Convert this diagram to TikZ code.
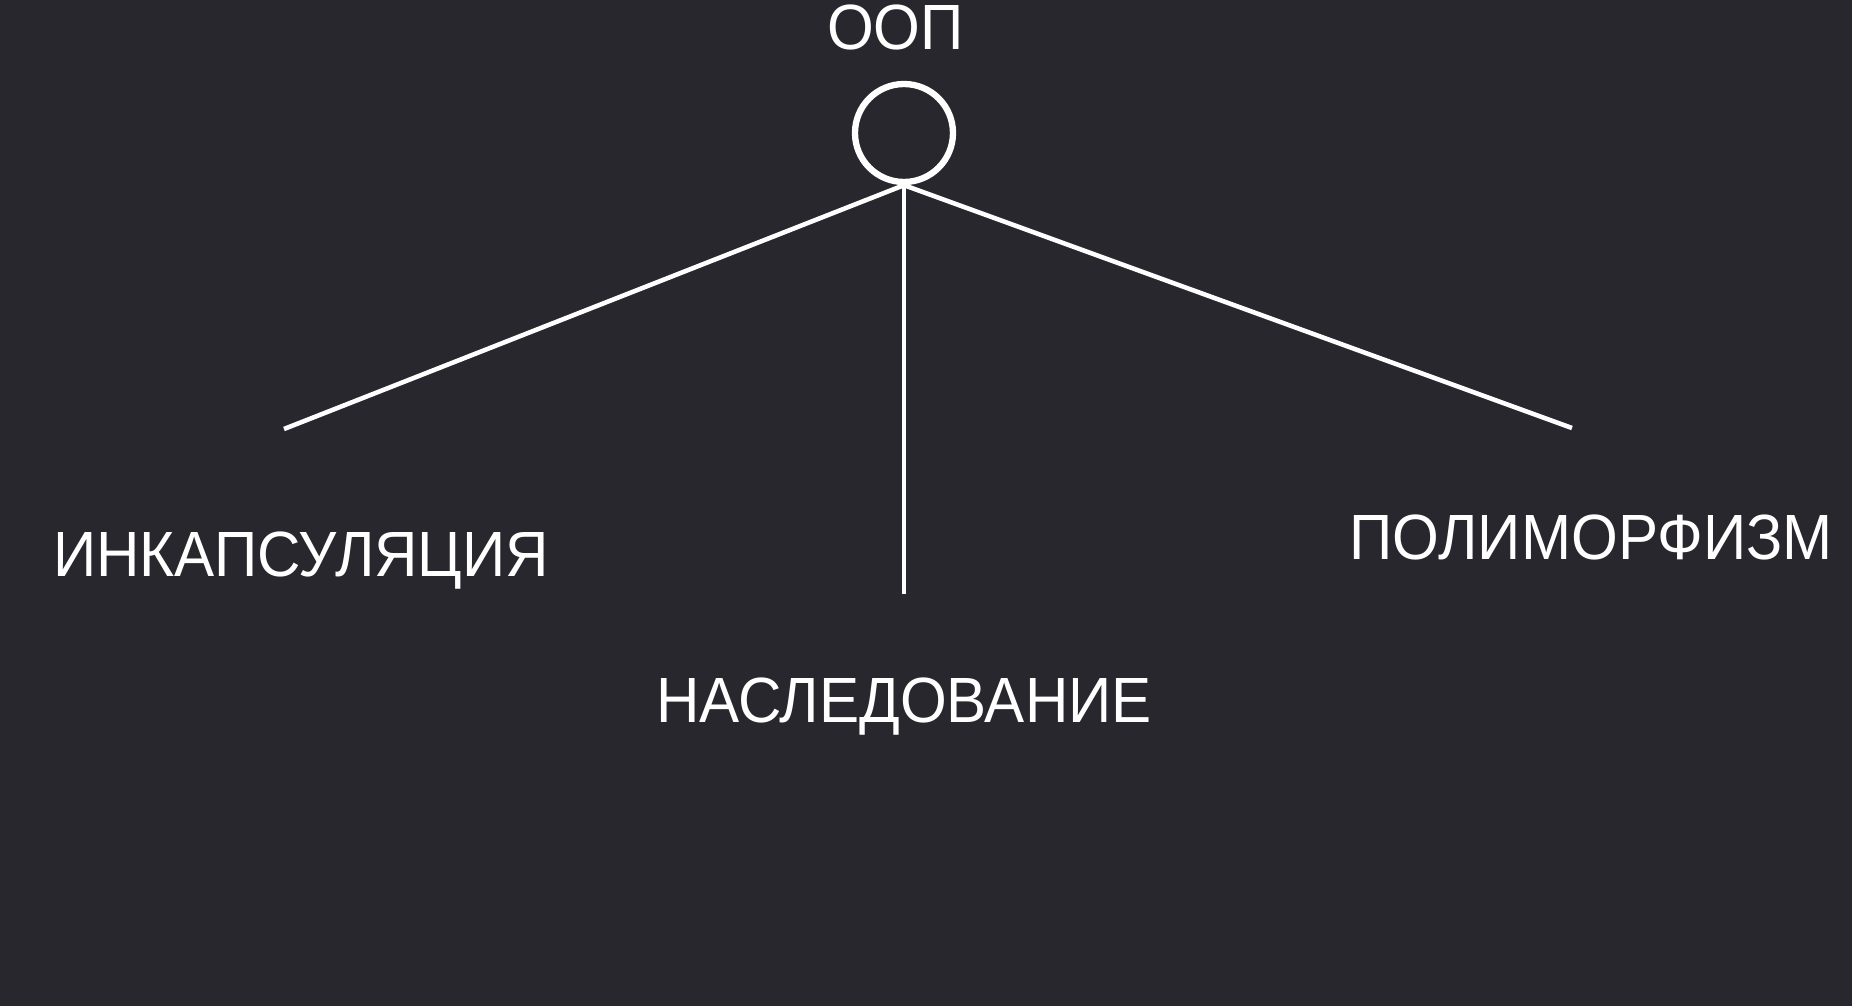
\documentclass[tikz,border=0pt]{standalone}
\usepackage{fontspec}
\setmainfont{Liberation Sans}[FakeStretch=0.94]
\usepackage{xcolor}
\usetikzlibrary{positioning}
\definecolor{bgdark}{HTML}{28272D}

\begin{document}
\begin{tikzpicture}[
            label/.style={text=white, inner sep=0pt, anchor=base, font=\fontsize{18.2}{21}\selectfont},
            branch/.style={draw=white, line width=1.3pt}]
            \useasboundingbox (0,0) rectangle (18.52,10.06);
            \fill[bgdark] (0,0) rectangle (18.52,10.06);

            \node[circle, draw=white, line width=1.8pt, inner sep=0pt, minimum size=0.98cm] (oop) at (9.04,8.73) {};
            \node[label] (title) at (8.955,9.57) {ООП};

            \coordinate (encEnd) at (2.84,5.77);
            \coordinate (inhEnd) at (9.04,4.12);
            \coordinate (polyEnd) at (15.72,5.78);

            \draw[branch] (oop.south) -- (encEnd);
            \draw[branch] (oop.south) -- (inhEnd);
            \draw[branch] (oop.south) -- (polyEnd);

            \node[label] (enc) at (3.01,4.30) {ИНКАПСУЛЯЦИЯ};
            \node[label] (inh) at (9.04,2.84) {НАСЛЕДОВАНИЕ};
            \node[label] (poly) at (15.91,4.47) {ПОЛИМОРФИЗМ};
        \end{tikzpicture}
\end{document}
